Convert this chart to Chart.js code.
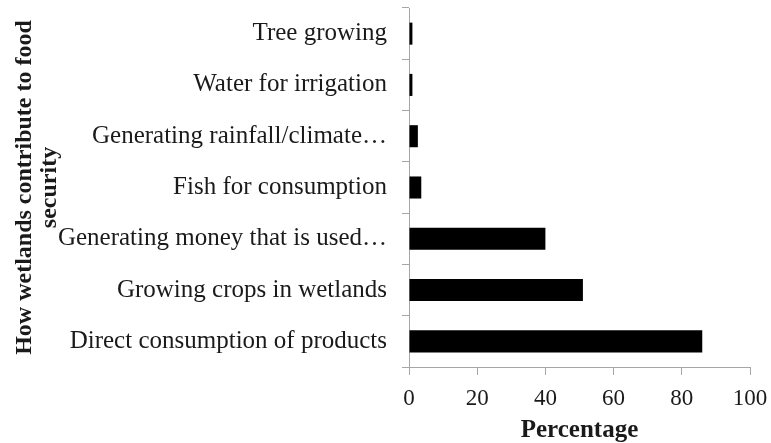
<!DOCTYPE html>
<html><head><meta charset="utf-8">
<script src="https://cdn.jsdelivr.net/npm/chart.js@4"></script>
<style>html,body{margin:0;padding:0;background:#fff}#wrap{width:771px;height:443px}</style>
</head><body><div id="wrap"><canvas id="c" width="771" height="443"></canvas></div>
<script>
const categories = ["Tree growing","Water for irrigation","Generating rainfall/climate\u2026","Fish for consumption","Generating money that is used\u2026","Growing crops in wetlands","Direct consumption of products"];
const values = [1,1,2.6,3.6,40,51,86];
const xTicks = [0,20,40,60,80,100];
const xTitle = "Percentage";
const yTitle = ["How wetlands contribute to food","security"];

const serif = "'Liberation Serif','Times New Roman',serif";
new Chart(document.getElementById('c'), {
  type:'bar',
  data:{labels:categories,datasets:[{data:values,backgroundColor:'#000',borderWidth:0,barPercentage:0.43,categoryPercentage:1}]},
  options:{
    indexAxis:'y',responsive:false,animation:false,devicePixelRatio:1,
    layout:{padding:{top:8,right:21,left:0,bottom:0}},
    plugins:{legend:{display:false},tooltip:{enabled:false}},
    scales:{
      x:{min:0,max:100,
        afterBuildTicks:s=>{s.ticks=xTicks.map(v=>({value:v}));},
        afterFit:s=>{s.height=76;s.paddingLeft=0;s.paddingRight=0;},
        border:{display:true,color:'#a6a6a6',width:1},
        grid:{drawOnChartArea:false,drawTicks:true,tickLength:8,color:'#a6a6a6'},
        ticks:{color:'#1a1a1a',font:{family:serif,size:23},padding:10,maxRotation:0},
        title:{display:true,text:xTitle,color:'#1a1a1a',font:{family:serif,size:25,weight:'bold',lineHeight:1},padding:{top:0,bottom:0}}
      },
      y:{
        afterFit:s=>{s.width=409;s.paddingTop=0;s.paddingBottom=0;},
        border:{display:true,color:'#a6a6a6',width:1},
        grid:{offset:true,drawOnChartArea:false,drawTicks:true,tickLength:7,color:'#a6a6a6'},
        ticks:{color:'#1a1a1a',font:{family:serif,size:25},padding:15,autoSkip:false},
        title:{display:true,text:yTitle,color:'#1a1a1a',font:{family:serif,size:24,weight:'bold',lineHeight:1.04},padding:{top:12,bottom:0}}
      }
    }
  }
});
</script></body></html>
